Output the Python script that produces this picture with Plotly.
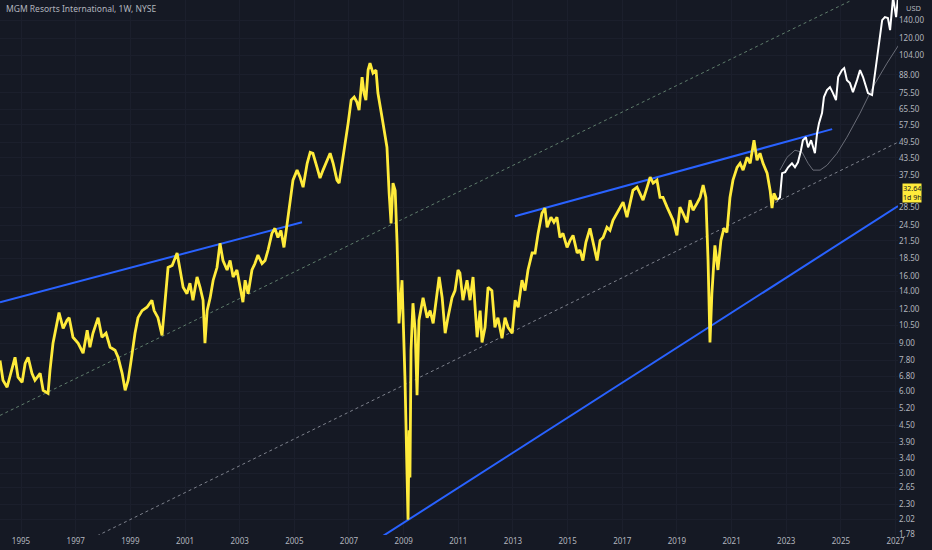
import math
import pandas as pd
import plotly.graph_objects as go

TITLE = "MGM Resorts International, 1W, NYSE"
CURRENCY = "USD"
LAST_PRICE = "32.64"
COUNTDOWN = "1d 9h"

# weekly close (decimal year, price)
hist_t = [1994.23, 1994.34, 1994.49, 1994.67, 1994.78, 1994.89, 1995.04, 1995.15, 1995.26, 1995.40,
          1995.51, 1995.70, 1995.81, 1995.99, 1996.06, 1996.17, 1996.32, 1996.39, 1996.54, 1996.68,
          1996.76, 1996.90, 1997.09, 1997.27, 1997.42, 1997.52, 1997.63, 1997.82, 1997.96, 1998.11,
          1998.26, 1998.44, 1998.55, 1998.70, 1998.81, 1998.92, 1999.03, 1999.17, 1999.28, 1999.43,
          1999.61, 1999.79, 1999.87, 2000.01, 2000.16, 2000.27, 2000.38, 2000.53, 2000.71, 2000.82,
          2000.93, 2001.07, 2001.18, 2001.29, 2001.44, 2001.55, 2001.66, 2001.73, 2001.81, 2001.92,
          2002.03, 2002.17, 2002.28, 2002.39, 2002.54, 2002.65, 2002.76, 2002.90, 2003.01, 2003.12,
          2003.20, 2003.31, 2003.45, 2003.56, 2003.67, 2003.82, 2003.93, 2004.04, 2004.18, 2004.29,
          2004.40, 2004.51, 2004.62, 2004.73, 2004.84, 2004.95, 2005.10, 2005.21, 2005.32, 2005.47,
          2005.58, 2005.68, 2005.83, 2005.94, 2006.05, 2006.20, 2006.31, 2006.42, 2006.56, 2006.64,
          2006.75, 2006.86, 2006.97, 2007.08, 2007.19, 2007.29, 2007.37, 2007.48, 2007.55, 2007.62,
          2007.70, 2007.77, 2007.88, 2007.99, 2008.06, 2008.21, 2008.32, 2008.39, 2008.47, 2008.54,
          2008.61, 2008.69, 2008.76, 2008.80, 2008.83, 2008.94, 2008.98, 2009.05, 2009.12, 2009.16,
          2009.20, 2009.23, 2009.27, 2009.34, 2009.42, 2009.49, 2009.56, 2009.71, 2009.86, 2009.97,
          2010.08, 2010.22, 2010.30, 2010.41, 2010.52, 2010.62, 2010.77, 2010.88, 2010.99, 2011.06,
          2011.17, 2011.32, 2011.43, 2011.54, 2011.69, 2011.80, 2011.87, 2011.98, 2012.09, 2012.23,
          2012.34, 2012.45, 2012.60, 2012.71, 2012.82, 2012.97, 2013.08, 2013.19, 2013.33, 2013.44,
          2013.55, 2013.70, 2013.81, 2013.92, 2014.06, 2014.17, 2014.25, 2014.39, 2014.50, 2014.61,
          2014.72, 2014.83, 2014.98, 2015.09, 2015.20, 2015.35, 2015.45, 2015.56, 2015.67, 2015.82,
          2015.93, 2016.08, 2016.19, 2016.30, 2016.44, 2016.55, 2016.66, 2016.81, 2016.92, 2017.03,
          2017.17, 2017.28, 2017.39, 2017.54, 2017.65, 2017.76, 2017.91, 2018.02, 2018.13, 2018.27,
          2018.38, 2018.49, 2018.64, 2018.75, 2018.86, 2019.00, 2019.11, 2019.22, 2019.37, 2019.48,
          2019.59, 2019.74, 2019.85, 2019.96, 2020.06, 2020.14, 2020.21, 2020.28, 2020.39, 2020.50,
          2020.61, 2020.72, 2020.83, 2020.94, 2021.05, 2021.20, 2021.31, 2021.42, 2021.57, 2021.68,
          2021.82, 2021.93, 2022.04, 2022.15, 2022.30, 2022.41, 2022.48, 2022.55, 2022.66]
hist_p = [7.80, 6.59, 6.21, 7.35, 8.01, 6.76, 6.48, 7.60, 8.01, 6.99,
          6.59, 6.99, 6.05, 5.90, 7.17, 9.02, 10.96, 11.70, 10.24, 10.96,
          11.21, 9.49, 9.02, 8.29, 10.07, 8.72, 9.82, 11.21, 9.49, 9.82,
          8.72, 8.50, 8.01, 6.99, 6.05, 6.59, 7.80, 9.82, 11.21, 11.90,
          12.25, 13.00, 11.90, 11.21, 9.65, 13.00, 17.15, 17.44, 19.40, 16.80,
          14.51, 13.74, 15.01, 13.00, 15.83, 14.51, 13.00, 9.02, 11.90, 13.28,
          15.40, 17.15, 21.06, 18.20, 16.80, 18.20, 15.83, 16.80, 14.51, 12.78,
          15.40, 13.74, 16.80, 17.74, 19.07, 17.74, 18.20, 19.90, 22.91, 23.92,
          22.14, 23.50, 20.35, 24.95, 29.63, 36.00, 39.20, 36.93, 33.92, 41.53,
          45.62, 45.23, 40.14, 36.62, 39.20, 42.60, 45.23, 41.53, 36.00, 35.09,
          41.53, 47.58, 58.39, 71.00, 72.83, 69.80, 65.20, 86.31, 75.35, 71.00,
          91.60, 97.19, 89.29, 91.60, 75.35, 61.43, 51.82, 47.58, 32.17, 24.95,
          35.09, 33.00, 21.06, 15.01, 10.68, 15.40, 11.90, 6.59, 3.07, 2.02,
          4.31, 2.89, 8.50, 12.67, 10.07, 5.80, 10.96, 13.28, 11.21, 11.90,
          10.68, 13.74, 15.83, 13.28, 9.82, 11.21, 13.28, 14.10, 16.80, 16.38,
          13.00, 15.40, 13.00, 15.83, 9.49, 11.90, 9.09, 10.33, 14.51, 14.10,
          10.33, 11.21, 9.41, 11.21, 10.33, 9.82, 13.00, 12.25, 15.40, 14.10,
          16.80, 19.40, 19.40, 22.91, 27.20, 28.40, 24.12, 26.29, 25.17, 26.29,
          22.14, 22.91, 20.35, 21.60, 22.52, 19.40, 19.90, 18.20, 21.24, 23.92,
          21.06, 18.20, 21.60, 22.14, 24.12, 23.50, 25.60, 27.20, 28.64, 29.89,
          26.29, 29.63, 33.00, 33.92, 32.17, 30.40, 33.92, 36.93, 35.09, 36.00,
          31.09, 31.09, 28.64, 27.20, 25.60, 22.52, 28.64, 27.20, 25.17, 30.40,
          27.90, 29.63, 31.09, 34.50, 31.09, 18.20, 9.09, 13.74, 20.70, 16.80,
          21.60, 23.92, 23.10, 31.09, 36.00, 40.14, 41.53, 39.20, 43.72, 41.53,
          50.50, 42.60, 45.23, 41.53, 38.21, 33.00, 28.40, 32.17, 30.40]

# projected path drawn in white
proj_t = [2022.66, 2022.77, 2022.85, 2022.96, 2023.07, 2023.21, 2023.32, 2023.43, 2023.54, 2023.61,
          2023.72, 2023.80, 2023.91, 2023.98, 2024.05, 2024.13, 2024.20, 2024.31, 2024.38, 2024.49,
          2024.60, 2024.71, 2024.82, 2024.90, 2025.04, 2025.12, 2025.22, 2025.33, 2025.44, 2025.59,
          2025.70, 2025.81, 2025.88, 2025.99, 2026.14, 2026.21, 2026.32, 2026.40, 2026.51, 2026.61,
          2026.72, 2026.80, 2026.87, 2026.91, 2027.02, 2027.09]
proj_p = [30.40, 31.09, 38.21, 38.54, 40.14, 41.53, 40.14, 41.88, 46.40, 50.50,
          51.82, 47.58, 50.50, 47.58, 45.23, 53.60, 58.39, 63.56, 72.83, 77.30,
          79.24, 75.35, 71.00, 86.31, 91.60, 93.14, 84.10, 81.98, 75.99, 84.10,
          91.60, 86.31, 81.98, 75.35, 74.08, 84.10, 99.70, 115.10, 140.00, 143.60,
          142.40, 128.60, 156.40, 170.00, 143.60, 170.00]

# thin hand-drawn arc
arc_t = [2022.77, 2023.03, 2023.32, 2023.58, 2023.80, 2023.98, 2024.24, 2024.49, 2024.86, 2025.22,
         2025.70, 2026.17, 2026.69, 2027.16]
arc_p = [39.20, 43.72, 46.40, 45.62, 41.53, 39.20, 39.20, 40.83, 45.23, 51.82,
         63.56, 79.24, 97.19, 115.10]

# trend lines: (start year, end year), (start price, end price)
upper_wedge_t, upper_wedge_p = [1994.23, 2005.28], [12.78, 25.17]
top_wedge_t, top_wedge_p = [2013.07, 2024.68], [26.51, 55.49]
support_t, support_p = [2008.25, 2027.09], [1.76, 28.89]
chan_hi_t, chan_hi_p = [1994.23, 2025.41], [4.89, 166.0]
chan_lo_t, chan_lo_p = [1997.78, 2027.09], [1.76, 49.65]

y_ticks = [1.78, 2.02, 2.30, 2.65, 3.00, 3.40, 3.90, 4.50, 5.20, 6.00, 6.80, 7.80, 9.00, 10.50,
           12.00, 14.00, 16.00, 18.50, 21.50, 24.50, 28.50, 37.50, 43.50, 49.50, 57.50, 65.50,
           75.50, 88.00, 104.00, 120.00, 140.00]
x_years = list(range(1995, 2028, 2))
x_span = [1994.23, 2027.09]
y_span = [1.773, 166.0]


def yr(v):
    y = int(math.floor(v))
    a = pd.Timestamp(y, 1, 1)
    b = pd.Timestamp(y + 1, 1, 1)
    return a + (b - a) * (v - y)


def dates(ts):
    return [yr(v) for v in ts]


BG = "#151924"
GRID = "#1b1f2c"
TXT = "#b2b5be"
FONT = "Noto Sans"

fig = go.Figure()


def add_line(ts, ps, color, width, dash="solid"):
    fig.add_trace(go.Scatter(x=dates(ts), y=ps, mode="lines",
                             line=dict(color=color, width=width, dash=dash),
                             hoverinfo="skip", showlegend=False))


add_line(chan_hi_t, chan_hi_p, "#5f7d6c", 1, "dot")
add_line(chan_lo_t, chan_lo_p, "#7e828d", 1, "dot")
add_line(arc_t, arc_p, "#6a6d78", 1)
add_line(upper_wedge_t, upper_wedge_p, "#2962ff", 2)
add_line(top_wedge_t, top_wedge_p, "#2962ff", 2)
add_line(support_t, support_p, "#2962ff", 2)
add_line(proj_t, proj_p, "#ffffff", 2)
add_line(hist_t, hist_p, "#ffeb3b", 2.8)

fig.update_layout(
    width=932, height=550,
    margin=dict(l=0, r=34, t=0, b=15),
    paper_bgcolor=BG, plot_bgcolor=BG,
    font=dict(family=FONT, size=8, color=TXT),
    hovermode=False,
    showlegend=False,
    xaxis=dict(type="date", range=dates(x_span),
               tickvals=[pd.Timestamp(y, 1, 1) for y in x_years],
               ticktext=[str(y) for y in x_years],
               showgrid=True, gridcolor=GRID, gridwidth=1,
               zeroline=False, showline=False, ticks="",
               tickfont=dict(size=8, color=TXT)),
    yaxis=dict(type="log", side="right",
               range=[math.log10(y_span[0]), math.log10(y_span[1])],
               tickvals=y_ticks, ticktext=[f"{v:.2f}" for v in y_ticks],
               showgrid=True, gridcolor=GRID, gridwidth=1,
               zeroline=False, showline=False, ticks="",
               tickfont=dict(size=8, color=TXT)),
)

fig.add_annotation(text=TITLE, xref="paper", yref="paper", x=0.005, y=1,
                   xanchor="left", yanchor="top", yshift=-1, showarrow=False,
                   font=dict(size=8.5, color=TXT, family=FONT))
fig.add_annotation(text=CURRENCY, xref="paper", yref="paper", x=1, y=1,
                   xanchor="left", yanchor="top", xshift=6, yshift=-1, showarrow=False,
                   font=dict(size=7.5, color=TXT, family=FONT))
fig.add_annotation(text=f"{LAST_PRICE}<br>{COUNTDOWN}", xref="paper", yref="paper",
                   x=1, y=1 - 193 / 535, xanchor="left", yanchor="middle", xshift=4,
                   showarrow=False, bgcolor="#ffeb3b", borderpad=0,
                   font=dict(size=7, color="#131722", family=FONT))

fig.write_html("out.html", config={"displayModeBar": False},
               post_script="document.body.style.margin='0';")
